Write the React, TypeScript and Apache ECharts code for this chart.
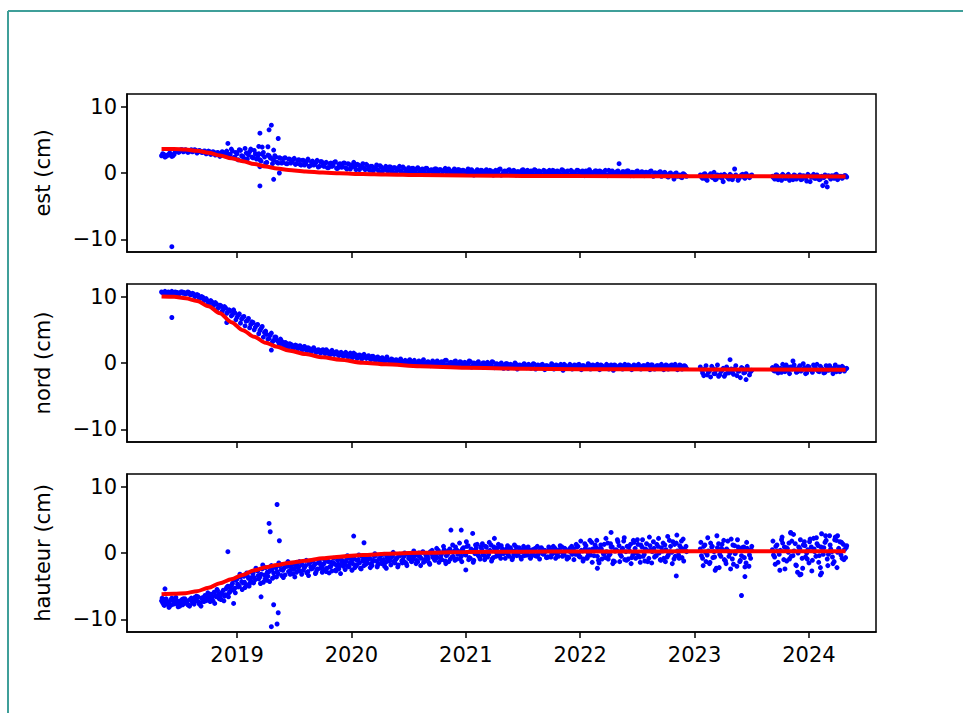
import React, { useEffect, useRef } from "react";
import * as echarts from "echarts";

// ---- sampling (decimal years) ----
const STEP = 0.02;
const segmentStarts = [2018.34, 2023.05, 2023.68];
const yearTicks = [2019, 2020, 2021, 2022, 2023, 2024];
const valueTicks = [-10, 0, 10];
const panelNames = ["est (cm)", "nord (cm)", "hauteur (cm)"];

// ---- est (pass 1, dates from 2018.34) ----
const estSegA = [
  2.6, 2.8, 2.5, 2.7, 2.9, 2.6, 3.2, 3.4, 3.3, 3.5,
  3.3, 3.4, 3.2, 3.5, 3.3, 3.4, 3.2, 3.3, 3.1, 3.3,
  3.0, 3.2, 2.9, 3.1, 2.8, 3.0, 2.7, 3.1, 2.6, 2.9,
  2.8, 3.3, 2.4, 2.9, 3.5, 2.6, 2.2, 3.0, 2.7, 3.6,
  2.3, 2.9, 2.5, 2.0, 2.8, 2.4, 1.6, 2.6, 2.2, 1.9,
  2.4, 1.5, 2.2, 1.6, 2.3, 1.4, 2.1, 1.7, 2.2, 1.4,
  2.0, 1.2, 1.9, 1.4, 2.1, 1.1, 1.8, 1.3, 1.9, 1.0,
  1.7, 1.0, 1.6, 0.8, 1.5, 1.1, 1.7, 0.7, 1.4, 0.9,
  1.5, 0.6, 1.3, 0.9, 1.6, 0.5, 1.2, 0.8, 1.4, 0.5,
  1.1, 0.4, 1.0, 0.6, 1.2, 0.3, 0.9, 0.5, 1.0, 0.3,
  0.9, 0.2, 0.8, 0.4, 1.0, 0.1, 0.7, 0.3, 0.8, 0.2,
  0.7, 0.1, 0.8, 0.2, 0.6, 0.0, 0.7, 0.3, 0.5, 0.0,
  0.6, -0.1, 0.5, 0.2, 0.7, -0.2, 0.4, 0.1, 0.6, -0.1,
  0.5, -0.2, 0.4, 0.0, 0.6, -0.1, 0.3, -0.2, 0.5, 0.1,
  0.4, -0.2, 0.5, 0.0, 0.3, -0.3, 0.4, 0.1, 0.6, -0.2,
  0.3, -0.2, 0.5, 0.0, 0.4, -0.3, 0.2, -0.1, 0.5, 0.0,
  0.4, -0.3, 0.2, 0.5, -0.1, 0.3, -0.3, 0.4, 0.0, 0.2,
  -0.2, 0.4, 0.0, 0.3, -0.3, 0.5, -0.1, 0.2, -0.3, 0.4,
  0.1, -0.3, 0.4, -0.1, 0.3, -0.4, 0.2, 0.5, -0.2, 0.1,
  0.3, -0.3, 0.2, -0.1, 0.4, -0.4, 0.1, 0.3, -0.2, 0.2,
  1.4, -0.3, 0.2, -0.1, 0.3, -0.4, 0.1, -0.2, 0.3, -0.3,
  0.2, -0.4, 0.1, -0.2, 0.3, -0.5, 0.0, -0.3, 0.2, -0.4,
  0.1, -0.5, -0.1, -0.3, -0.9, 0.0, -0.4, -0.6, -0.1, -0.4,
];
const estSegB = [
  -0.3, -0.8, -0.1, -1.1, -0.4, -0.6, 0.1, -0.9, -0.5, -0.3, -1.3, -0.4,
  -0.7, -0.2, -1.0, 0.6, -0.5, -0.8, -0.3, -0.6, -0.1, -0.5, -0.4,
];
const estSegC = [
  -0.5, -0.9, -0.3, -0.7, -1.1, -0.4, -0.8, -0.2, -0.6, -1.0, -0.4, -0.7,
  -0.3, -0.9, -0.5, -1.2, -0.4, -0.6, -0.2, -0.8, -0.5, -0.9, -1.9, -0.3,
  -2.1, -0.6, -0.4, -0.8, -0.2, -0.7, -0.5, -0.6, -0.4,
];
// ---- est (pass 2, dates shifted by 0.01) ----
const estSegA2 = [
  2.9, 2.4, 2.7, 3.0, 2.5, 2.8, 3.4, 3.1, 3.5, 3.2,
  3.5, 3.1, 3.4, 3.2, 3.5, 3.0, 3.4, 3.1, 3.3, 2.9,
  3.3, 2.8, 3.2, 2.7, 3.1, 2.5, 3.2, 2.8, 3.3, 2.6,
  3.6, 2.3, 3.1, 2.0, 3.4, 2.5, 3.7, 2.1, 3.2, 2.4,
  3.4, 2.1, 2.9, 1.8, 3.1, 1.5, 2.7, 2.3, 1.4, 2.6,
  1.6, 2.3, 1.5, 2.2, 1.4, 2.1, 1.5, 2.0, 1.3, 1.9,
  1.3, 1.9, 1.2, 1.8, 1.0, 1.7, 1.2, 1.6, 0.9, 1.7,
  1.1, 1.5, 0.8, 1.4, 1.0, 1.6, 0.7, 1.3, 0.9, 1.5,
  0.8, 1.4, 0.6, 1.2, 0.9, 1.3, 0.5, 1.1, 0.7, 1.3,
  0.6, 1.0, 0.3, 0.8, 0.5, 1.1, 0.2, 0.7, 0.4, 0.9,
  0.3, 0.8, 0.1, 0.6, 0.3, 0.9, 0.0, 0.5, 0.2, 0.7,
  0.2, 0.6, -0.1, 0.5, 0.3, 0.7, 0.0, 0.4, 0.2, 0.6,
  0.1, 0.5, -0.2, 0.4, 0.2, 0.6, -0.1, 0.3, 0.0, 0.5,
  0.1, 0.4, -0.2, 0.3, 0.0, 0.5, -0.3, 0.2, 0.1, 0.4,
  -0.1, 0.3, 0.0, 0.4, -0.2, 0.2, -0.1, 0.5, -0.3, 0.2,
  0.1, 0.4, -0.2, 0.3, 0.0, 0.2, -0.3, 0.4, -0.1, 0.3,
  0.0, 0.3, -0.2, 0.4, -0.1, 0.2, -0.3, 0.3, 0.1, 0.4,
  -0.1, 0.3, 0.0, 0.2, -0.2, 0.4, -0.1, 0.3, -0.3, 0.2,
  0.0, 0.4, -0.2, 0.2, -0.1, 0.3, -0.3, 0.2, 0.0, 0.3,
  -0.2, 0.3, -0.1, 0.2, -0.3, 0.4, 0.0, 0.1, -0.2, 0.3,
  -0.1, 0.2, -0.3, 0.3, -0.2, 0.1, -0.4, 0.2, -0.1, 0.1,
  -0.3, 0.1, -0.2, 0.2, -0.4, 0.0, -0.3, 0.1, -0.5, 0.0,
  -0.2, -0.6, 0.0, -0.4, -0.1, -0.5, -0.3, -0.7, -0.2, -0.5,
];
const estSegB2 = [
  -0.6, -0.2, -0.9, -0.4, -0.1, -0.7, -1.0, -0.3, -0.6, -0.8, -0.2, -0.5,
  -0.9, -0.4, -0.6, -0.3, -1.1, -0.5, -0.2, -0.8, -0.4, -0.7, -0.3,
];
const estSegC2 = [
  -0.7, -0.3, -1.0, -0.5, -0.2, -0.8, -0.4, -1.1, -0.6, -0.3, -0.9, -0.5,
  -1.0, -0.4, -0.7, -0.2, -1.3, -0.6, -0.8, -0.3, -1.0, -0.5, -0.7, -1.4,
  -0.4, -0.9, -0.6, -0.3, -1.0, -0.5, -0.8, -0.4, -0.6,
];
const estOutliers = [
  [2018.43, -11.1], [2018.92, 4.45], [2019.2, 6.0], [2019.28, 6.5], [2019.3, 7.2],
  [2019.36, 5.2], [2019.27, 3.95], [2019.32, 3.45], [2019.2, -1.95], [2019.32, -0.95],
  [2019.37, 0.0], [2019.2, 0.95], [2019.22, 3.9], [2019.19, 4.0],
];

// ---- nord (pass 1) ----
const nordSegA = [
  10.7, 10.5, 10.6, 10.7, 10.5, 10.6, 10.7, 10.6, 10.5, 10.7,
  10.6, 10.5, 10.6, 10.3, 10.4, 10.1, 10.2, 9.8, 9.9, 9.5,
  9.4, 9.1, 9.2, 8.8, 8.9, 8.4, 8.6, 8.1, 8.3, 7.7,
  7.9, 7.3, 7.6, 6.9, 7.4, 6.6, 7.0, 6.3, 6.7, 5.8,
  6.1, 5.4, 5.8, 4.9, 5.5, 4.6, 4.3, 3.7, 4.5, 3.4,
  3.9, 3.2, 3.6, 2.9, 3.1, 2.6, 2.9, 2.7, 2.4, 2.6,
  2.5, 2.2, 2.4, 2.1, 2.3, 1.9, 2.1, 2.0, 1.7, 1.9,
  1.8, 1.6, 2.0, 1.5, 1.7, 1.4, 1.6, 1.3, 1.5, 1.2,
  1.4, 1.1, 1.3, 1.0, 1.5, 1.2, 0.9, 1.1, 0.8, 1.0,
  0.9, 0.7, 1.0, 0.6, 0.8, 0.5, 0.7, 0.4, 0.6, 0.5,
  0.3, 0.5, 0.2, 0.4, 0.1, 0.3, 0.2, 0.0, 0.3, 0.1,
  0.2, -0.1, 0.1, 0.0, 0.2, -0.2, 0.1, 0.0, -0.1, 0.1,
  0.0, -0.2, 0.1, -0.1, 0.4, -0.3, 0.0, -0.1, 0.2, -0.2,
  -0.1, 0.1, -0.3, 0.0, -0.2, 0.2, -0.4, -0.1, 0.0, -0.3,
  -0.2, 0.0, -0.4, -0.1, -0.3, 0.1, -0.5, -0.2, -0.6, -0.3,
  -0.4, -0.1, -0.5, -0.3, -0.7, -0.2, -0.4, -0.6, -0.3, -0.5,
  -0.3, -0.6, -0.4, -0.2, -0.7, -0.5, -0.3, -0.6, -0.4, -0.5,
  -0.6, -0.3, -0.5, -0.8, -0.4, -0.6, -0.2, -0.5, -0.7, -0.4,
  -0.5, -0.7, -0.3, -0.6, -0.4, -0.8, -0.5, -0.3, -0.6, -0.4,
  -0.7, -0.5, -0.3, -0.6, -0.8, -0.4, -0.6, -0.5, -0.3, -0.7,
  -0.5, -0.8, -0.4, -0.6, -0.3, -0.7, -0.5, -0.6, -0.4, -0.8,
  -0.6, -0.4, -0.7, -0.5, -0.3, -0.6, -0.8, -0.4, -0.6, -0.5,
  -0.7, -0.4, -0.6, -0.3, -0.5, -0.8, -0.6, -0.4, -0.7, -0.5,
];
const nordSegB = [
  -0.6, -1.5, -0.9, -1.8, -1.2, -0.5, -1.6, -1.0, -2.0, -1.3, -0.8, -1.7,
  -1.1, 0.5, -1.4, -0.9, -1.9, -1.2, -0.7, -1.5, -2.5, -1.0, -1.3,
];
const nordSegC = [
  -0.7, -1.2, -0.5, -1.0, -1.4, -0.8, -0.3, -1.1, -0.6, 0.3, -0.9, -1.3,
  -0.4, -1.0, -0.7, -1.5, -0.6, -1.1, -0.3, -0.9, -1.2, -0.5, -1.0, -1.4,
  -0.7, -0.4, -1.1, -0.8, -1.3, -0.6, -1.0, -0.7, -0.9,
];
// ---- nord (pass 2, shifted by 0.01) ----
const nordSegA2 = [
  10.6, 10.8, 10.5, 10.6, 10.8, 10.5, 10.6, 10.4, 10.7, 10.5,
  10.4, 10.7, 10.3, 10.5, 10.0, 10.3, 9.7, 10.0, 9.4, 9.7,
  9.0, 9.4, 8.6, 9.1, 8.2, 8.7, 7.8, 8.5, 7.5, 8.0,
  7.1, 7.8, 6.5, 7.2, 6.0, 6.9, 5.6, 6.4, 5.3, 6.2,
  5.0, 5.7, 4.4, 5.2, 3.9, 4.8, 3.6, 4.2, 3.2, 3.9,
  3.4, 2.8, 3.3, 2.5, 3.0, 2.3, 2.8, 2.2, 2.7, 2.1,
  2.6, 2.0, 2.5, 1.8, 2.2, 1.7, 2.3, 1.6, 2.0, 1.5,
  2.0, 1.4, 1.8, 1.2, 1.9, 1.3, 1.7, 1.1, 1.6, 1.0,
  1.6, 0.9, 1.5, 0.8, 1.3, 0.7, 1.2, 0.6, 1.3, 0.7,
  1.1, 0.5, 1.0, 0.4, 0.9, 0.3, 0.8, 0.2, 0.9, 0.3,
  0.6, 0.0, 0.5, -0.1, 0.6, 0.0, 0.4, -0.2, 0.5, 0.0,
  0.4, -0.3, 0.3, -0.2, 0.5, -0.3, 0.2, -0.4, 0.3, -0.2,
  0.3, -0.4, 0.2, -0.3, 0.4, -0.5, 0.1, -0.3, 0.3, -0.4,
  0.2, -0.5, 0.1, -0.4, 0.3, -0.6, 0.0, -0.3, 0.2, -0.5,
  0.0, -0.6, 0.1, -0.5, 0.2, -0.7, -0.1, -0.4, 0.0, -0.8,
  -0.1, -0.8, -0.2, -0.6, 0.0, -0.9, -0.3, -0.5, -0.1, -0.7,
  -0.2, -0.8, -0.1, -0.9, -0.3, -0.7, -0.2, -1.0, -0.4, -0.8,
  -0.1, -0.9, -0.3, -0.7, -0.2, -1.1, -0.4, -0.8, -0.2, -0.9,
  -0.3, -0.8, -0.2, -1.0, -0.4, -0.7, -0.1, -0.9, -0.3, -0.8,
  -0.2, -1.0, -0.4, -0.8, -0.2, -0.9, -0.3, -1.1, -0.4, -0.7,
  -0.3, -0.9, -0.2, -0.8, -0.4, -1.0, -0.3, -0.8, -0.2, -0.9,
  -0.4, -0.8, -0.2, -1.0, -0.3, -0.9, -0.4, -0.7, -0.2, -1.0,
  -0.3, -0.9, -0.4, -0.8, -0.2, -1.0, -0.3, -0.9, -0.4, -0.8,
];
const nordSegB2 = [
  -1.0, -1.9, -0.4, -1.4, -2.1, -0.8, -1.6, -0.3, -1.8, -1.1, -2.0, -0.6,
  -1.5, -0.9, -1.7, -0.4, -1.2, -2.2, -0.8, -1.4, -0.5, -1.8, -1.1,
];
const nordSegC2 = [
  -1.1, -0.4, -1.5, -0.8, -0.2, -1.3, -0.6, -1.6, -0.9, -0.3, -1.4, -0.7,
  -1.2, -0.1, -1.6, -0.5, -1.0, -1.4, -0.6, -0.2, -1.3, -0.8, -1.5, -0.4,
  -1.1, -0.7, -1.6, -0.3, -1.0, -1.3, -0.5, -1.2, -0.8,
];
const nordOutliers = [
  [2018.43, 6.85], [2019.3, 1.95], [2018.91, 6.1], [2018.97, 8.0],
];

// ---- hauteur (pass 1) ----
const hautSegA = [
  -7.2, -7.8, -6.9, -7.5, -7.9, -7.1, -7.6, -7.3, -8.0, -7.0,
  -7.6, -7.2, -7.9, -6.8, -7.4, -7.0, -6.6, -7.5, -6.9, -6.4,
  -7.1, -6.5, -6.8, -5.9, -6.6, -6.2, -7.0, -5.6, -6.3, -5.0,
  -5.8, -4.6, -5.3, -3.9, -5.0, -4.3, -3.5, -4.8, -3.8, -4.2,
  -3.1, -4.0, -2.7, -3.6, -2.4, -3.3, -4.1, -2.8, -1.9, -3.0,
  -2.2, -3.1, -1.8, -2.6, -3.3, -2.0, -2.7, -1.6, -2.4, -2.9,
  -2.1, -1.5, -2.6, -1.9, -2.8, -1.4, -2.3, -1.7, -2.5, -1.2,
  -2.2, -1.6, -2.8, -1.3, -2.0, -1.5, -2.6, -1.1, -1.9, -1.4,
  -1.7, -0.9, -2.1, -1.3, -0.6, -1.8, -1.0, -2.3, -1.2, -0.7,
  -1.5, -0.8, -1.9, -0.5, -1.2, -1.6, -0.3, -1.0, -1.4, -0.6,
  -1.1, -0.4, -1.5, -0.7, -0.2, -1.2, -0.5, -1.6, -0.8, -0.3,
  -0.9, -0.2, -1.3, -0.6, 0.1, -1.0, -0.4, -1.5, -0.1, -0.7,
  -0.3, 0.4, -0.8, 0.1, -1.2, -0.2, 0.6, -0.6, 0.3, -0.9,
  0.2, -0.5, 0.8, -0.3, 1.1, -0.8, 0.4, -0.1, 1.3, -0.6,
  0.5, -0.4, 0.9, -0.2, 1.2, -0.7, 0.3, 0.8, -0.3, 0.6,
  0.1, 0.7, -0.5, 0.4, -0.2, 0.9, 0.0, -0.6, 0.5, 0.2,
  -0.3, 0.4, -0.1, 0.6, -0.5, 0.2, 0.8, -0.2, 0.3, -0.6,
  0.5, -0.1, 0.7, -0.4, 0.2, 0.9, -0.3, 0.4, -0.7, 0.1,
  0.6, -0.2, 1.0, -0.6, 0.3, 1.4, -0.8, 0.5, 1.6, -0.4,
  0.8, -1.1, 1.2, 0.1, -0.7, 1.5, -0.2, 0.9, -1.3, 0.4,
  1.1, -0.5, 1.8, 0.2, -0.9, 1.3, -0.3, 0.7, 2.0, -0.6,
  0.9, -0.2, 1.4, -0.8, 0.5, 1.7, -0.4, 1.0, -1.0, 0.3,
  1.2, -0.6, 1.9, 0.1, -0.9, 1.5, -0.3, 0.8, 2.1, 0.4,
];
const hautSegB = [
  0.6, -0.8, 1.2, -0.3, -1.6, 0.9, 0.2, -2.3, 1.4, -0.5, 0.4, -1.2,
  1.8, 0.0, -0.9, 1.1, -2.0, 0.5, -0.4, 0.9, -1.5, 0.3, -0.8,
];
const hautSegC = [
  0.5, -0.6, 1.2, -0.2, 2.0, -1.0, 0.8, 0.1, 3.0, -0.4, 1.4, -2.9,
  0.6, -0.8, 1.7, 0.0, -1.5, 0.9, 2.2, -0.5, 1.1, -2.2, 0.4, 1.6,
  -0.9, 2.6, 0.2, -1.3, 1.9, 0.7, -0.3, 1.3, -0.7,
];
// ---- hauteur (pass 2, shifted by 0.01) ----
const hautSegA2 = [
  -7.5, -7.0, -7.7, -7.3, -6.8, -7.6, -7.1, -7.9, -7.4, -6.9,
  -7.3, -7.8, -7.0, -7.5, -6.7, -7.2, -7.7, -6.8, -7.3, -6.6,
  -6.9, -6.2, -7.2, -6.4, -5.7, -6.7, -5.9, -6.5, -5.2, -6.0,
  -4.9, -5.6, -4.1, -5.1, -3.6, -4.5, -5.2, -3.4, -4.6, -2.9,
  -3.7, -2.6, -3.9, -3.2, -4.4, -2.2, -3.5, -2.6, -3.8, -2.1,
  -2.8, -1.9, -3.4, -2.3, -1.7, -2.8, -2.1, -3.1, -1.9, -2.2,
  -2.7, -1.8, -2.2, -3.0, -1.6, -2.4, -2.0, -2.9, -1.5, -2.3,
  -1.8, -2.5, -1.2, -2.1, -2.7, -1.6, -1.9, -2.4, -1.0, -2.0,
  -1.3, -2.0, -0.8, -1.6, -2.2, -1.1, -1.5, -0.5, -1.9, -1.2,
  -0.9, -1.7, -1.1, -0.4, -1.8, -0.9, -1.3, -2.0, -0.7, -1.2,
  -0.6, -1.3, -0.9, -1.8, -0.3, -1.0, -1.4, -0.2, -0.9, -1.2,
  -0.5, -1.1, 0.0, -0.8, -1.4, -0.3, -0.9, 0.2, -0.6, -1.1,
  -0.7, 0.0, -1.0, 0.5, -0.4, -1.3, 0.2, -0.5, 0.9, -0.2,
  -0.9, 0.6, -0.2, 1.0, -0.7, 0.3, -1.1, 0.7, -0.4, 0.9,
  -0.2, 1.0, -0.6, 0.4, -0.9, 0.7, 0.1, -0.4, 1.1, -0.1,
  0.5, -0.3, 0.8, -0.7, 0.3, -0.1, 0.6, 0.2, -0.4, 0.7,
  0.3, -0.5, 0.1, 0.7, -0.3, 0.5, -0.1, 0.4, -0.6, 0.6,
  -0.2, 0.6, 0.0, -0.5, 0.8, -0.1, 0.3, -0.6, 0.7, -0.2,
  0.2, 0.9, -0.5, 0.4, -0.9, 1.1, 0.0, -0.3, 0.6, 1.2,
  -0.5, 0.6, -0.9, 1.3, 0.2, -0.4, 0.9, -1.2, 0.5, 1.7,
  -0.2, 0.7, -1.0, 1.0, 0.3, -0.7, 1.6, 0.0, -0.4, 1.2,
  -0.5, 0.6, -1.3, 1.1, 0.2, -0.6, 1.3, 0.0, 0.8, -0.8,
  0.5, -0.3, 1.0, 1.7, -0.5, 0.3, 1.1, -0.7, 0.6, 0.2,
];
const hautSegB2 = [
  -0.4, 1.0, -1.3, 0.3, 1.5, -0.7, -2.6, 0.8, -0.2, 1.3, -1.0, 0.6,
  -0.5, 2.1, -1.7, 0.2, 0.9, -1.1, 0.4, -2.1, 0.7, -0.3, 1.0,
];
const hautSegC2 = [
  -0.3, 1.0, -1.4, 0.4, 1.5, -2.4, 0.7, -0.9, 1.8, 0.3, -1.9, 0.9,
  -3.2, 1.2, -0.6, 0.5, 2.1, -1.1, 0.2, 1.4, -0.4, -3.0, 0.8, 1.9,
  -0.2, 0.6, -1.6, 2.4, 0.1, 1.7, -0.8, 0.5, 1.1,
];
// ---- hauteur (pass 3, shifted by 0.005) ----
const hautSegA3 = [
  -6.8, -7.9, -7.4, -8.2, -7.0, -7.7, -6.7, -8.1, -7.2, -7.8,
  -6.9, -7.6, -8.0, -7.1, -7.7, -6.5, -7.4, -8.0, -6.7, -7.2,
  -6.0, -7.3, -6.6, -7.6, -5.5, -6.9, -6.1, -7.2, -5.4, -6.6,
  -5.4, -4.0, -6.0, -4.7, -3.2, -5.5, -4.4, -3.0, -5.0, -3.7,
  -4.5, -2.3, -3.4, -4.6, -1.8, -3.9, -2.9, -4.3, -2.5, -3.6,
  -3.6, -1.5, -2.5, -3.7, -2.0, -1.3, -3.2, -2.4, -3.6, -1.6,
  -1.3, -3.2, -2.0, -1.1, -3.4, -2.1, -1.2, -3.1, -2.4, -1.6,
  -2.9, -1.0, -2.3, -3.0, -1.4, -0.8, -2.7, -1.7, -3.1, -1.2,
  -2.5, -0.4, -1.5, -2.6, -0.9, -1.9, -0.3, -2.4, -1.0, -1.7,
  -0.4, -2.2, -1.3, -0.1, -2.1, -0.8, -1.6, -0.2, -2.3, -1.0,
  -1.8, 0.1, -1.0, -2.1, -0.4, -1.5, 0.0, -1.9, -0.6, -1.3,
  0.3, -1.6, -0.4, -1.9, 0.2, -1.2, -0.5, -1.7, 0.4, -0.9,
  0.7, -1.4, -0.3, 1.0, -1.6, 0.3, -0.9, 1.2, -1.1, 0.4,
  1.5, -1.3, 0.1, 1.7, -1.0, 0.6, -1.4, 1.2, 0.0, -0.9,
  1.4, -1.0, 0.2, 1.6, -1.2, 0.9, -0.5, 1.3, -0.8, 0.4,
  -0.8, 1.1, 0.3, -1.0, 1.2, -0.4, 0.8, -0.9, 1.0, -0.3,
  0.9, -0.8, 0.5, -0.4, 1.0, -0.9, 0.6, 0.0, -0.7, 0.9,
  -0.6, 1.0, -0.8, 0.4, 1.1, -0.5, 0.7, -0.9, 0.3, 1.0,
  -1.0, 1.3, -0.1, 1.8, -1.2, 0.7, -0.5, 1.9, -1.4, 0.5,
  1.9, -1.5, 0.6, -0.2, 2.2, -0.9, 1.4, -1.6, 0.3, 2.0,
  -1.3, 0.5, 2.3, -1.1, 0.9, -1.6, 1.9, -0.8, 1.3, -1.4,
  2.0, -1.2, 0.4, 2.4, -1.5, 0.7, -0.4, 2.2, -1.1, 1.5,
  -1.3, 2.5, 0.2, -1.6, 1.3, 2.7, -0.8, 1.8, -1.2, 1.0,
];
const hautSegB3 = [
  1.6, -1.9, 0.1, 2.3, -1.4, 1.0, -0.6, 2.6, -2.2, 0.7, 1.9, -1.6,
  0.3, -2.4, 1.2, -0.1, 2.0, -1.3, 0.8, -0.7, 1.6, -2.0, 0.5,
];
const hautSegC3 = [
  1.8, -1.7, 0.3, -2.6, 2.4, 0.9, -1.2, 1.5, -0.5, 2.8, -1.8, 0.0,
  2.0, -2.3, 1.1, -0.9, 1.7, -2.7, 0.6, 2.3, -1.4, 0.9, -0.2, 2.6,
  -1.9, 1.2, -0.6, 2.0, -2.2, 0.4, 1.6, -1.0, 0.8,
];
const hautOutliers = [
  [2018.37, -5.4], [2018.92, 0.2], [2019.28, 4.45], [2019.29, 3.2], [2019.35, 7.3],
  [2019.37, 1.85], [2019.32, -7.8], [2019.36, -9.0], [2019.3, -11.1], [2019.35, -10.7],
  [2019.21, -6.6], [2018.97, -7.6], [2020.02, 2.55], [2020.11, 1.55], [2020.87, 3.45],
  [2020.96, 3.45], [2021.06, 2.95], [2021.0, -2.55], [2021.25, 2.2], [2022.84, -3.45],
  [2023.41, -6.4], [2023.44, -3.55], [2022.15, -2.3], [2022.27, 3.1], [2023.84, 3.1],
  [2023.92, -3.3], [2024.1, -3.3], [2024.11, 2.9], [2024.25, 2.6],
];

// ---- fitted curves ----
const fitYears = [
  2018.34, 2018.45, 2018.55, 2018.65, 2018.75, 2018.85, 2018.95, 2019.05, 2019.15, 2019.25,
  2019.35, 2019.45, 2019.6, 2019.75, 2019.9, 2020.1, 2020.3, 2020.6, 2021.0, 2021.5,
  2022.0, 2023.0, 2024.32,
];
const estFit = [
  3.6, 3.6, 3.53, 3.35, 3.05, 2.65, 2.22, 1.78, 1.35, 0.98,
  0.68, 0.45, 0.22, 0.06, -0.05, -0.15, -0.23, -0.32, -0.39, -0.44,
  -0.47, -0.5, -0.52,
];
const nordFit = [
  10.0, 9.97, 9.75, 9.35, 8.55, 7.5, 6.15, 4.95, 3.95, 3.05,
  2.45, 1.9, 1.35, 0.85, 0.5, 0.05, -0.2, -0.48, -0.72, -0.86,
  -0.93, -0.97, -1.0,
];
const hautFit = [
  -6.2, -6.15, -6.05, -5.75, -5.25, -4.55, -3.95, -3.3, -2.6, -2.15,
  -1.8, -1.5, -1.15, -0.8, -0.55, -0.3, -0.12, 0.03, 0.15, 0.2,
  0.22, 0.25, 0.25,
];

const toPoints = (segs: number[][], offset: number) =>
  segs.flatMap((vals, s) =>
    vals.map((v, i) => [+(segmentStarts[s] + offset + i * STEP).toFixed(3), v])
  );

const panels = [
  {
    name: panelNames[0],
    points: [
      ...toPoints([estSegA, estSegB, estSegC], 0),
      ...toPoints([estSegA2, estSegB2, estSegC2], 0.01),
      ...estOutliers,
    ],
    fit: estFit,
  },
  {
    name: panelNames[1],
    points: [
      ...toPoints([nordSegA, nordSegB, nordSegC], 0),
      ...toPoints([nordSegA2, nordSegB2, nordSegC2], 0.01),
      ...nordOutliers,
    ],
    fit: nordFit,
  },
  {
    name: panelNames[2],
    points: [
      ...toPoints([hautSegA, hautSegB, hautSegC], 0),
      ...toPoints([hautSegA2, hautSegB2, hautSegC2], 0.01),
      ...toPoints([hautSegA3, hautSegB3, hautSegC3], 0.005),
      ...hautOutliers,
    ],
    fit: hautFit,
  },
];

const FONT = "DejaVu Sans";
const fmtNum = (v: number) => (v < 0 ? "\u2212" + Math.abs(v) : String(v));

export default function App() {
  const ref = useRef<HTMLDivElement>(null);

  useEffect(() => {
    if (!ref.current) return;
    const chart = echarts.init(ref.current, undefined, { renderer: "svg" });
    const tops = [94, 284, 474];
    const grids = tops.map((t) => ({
      left: 127,
      top: t,
      width: 749,
      height: 158,
      show: true,
      borderColor: "#000",
      borderWidth: 1.5,
      backgroundColor: "transparent",
    }));
    const xAxes = tops.map((_, i) => ({
      type: "value",
      gridIndex: i,
      min: 2018.038,
      max: 2024.586,
      axisLine: { show: true, onZero: false, lineStyle: { color: "#000", width: 1.5 } },
      axisTick: {
        show: true,
        length: 6,
        customValues: yearTicks,
        lineStyle: { color: "#000", width: 1.5 },
      },
      axisLabel: {
        show: i === 2,
        customValues: yearTicks,
        formatter: (v: number) => String(v),
        fontFamily: FONT,
        fontSize: 21,
        color: "#000",
        margin: 12,
      },
      splitLine: { show: false },
    }));
    const yAxes = tops.map((_, i) => ({
      type: "value",
      gridIndex: i,
      min: -11.9,
      max: 11.9,
      name: panels[i].name,
      nameLocation: "middle",
      nameGap: 74,
      nameTextStyle: { fontFamily: FONT, fontSize: 21, color: "#000" },
      axisLine: { show: true, onZero: false, lineStyle: { color: "#000", width: 1.5 } },
      axisTick: {
        show: true,
        length: 6,
        customValues: valueTicks,
        lineStyle: { color: "#000", width: 1.5 },
      },
      axisLabel: {
        show: true,
        customValues: valueTicks,
        formatter: (v: number) => fmtNum(v),
        fontFamily: FONT,
        fontSize: 21,
        color: "#000",
        margin: 10,
      },
      splitLine: { show: false },
    }));
    const series: any[] = [];
    panels.forEach((p, i) => {
      series.push({
        type: "scatter",
        xAxisIndex: i,
        yAxisIndex: i,
        data: p.points,
        symbolSize: 5,
        itemStyle: { color: "#0000ff", opacity: 1 },
        z: 2,
      });
      series.push({
        type: "line",
        xAxisIndex: i,
        yAxisIndex: i,
        data: fitYears.map((y, k) => [y, p.fit[k]]),
        smooth: 0.3,
        smoothMonotone: "x",
        showSymbol: false,
        symbol: "none",
        lineStyle: { color: "#ff0000", width: 4 },
        z: 3,
      });
    });
    chart.setOption({
      animation: false,
      backgroundColor: "#fff",
      textStyle: { fontFamily: FONT },
      grid: grids,
      xAxis: xAxes,
      yAxis: yAxes,
      series,
      graphic: [
        {
          type: "line",
          shape: { x1: 8, y1: 11, x2: 963, y2: 11 },
          style: { stroke: "#3f9f99", lineWidth: 2 },
        },
        {
          type: "line",
          shape: { x1: 8, y1: 11, x2: 8, y2: 713 },
          style: { stroke: "#3f9f99", lineWidth: 2 },
        },
      ],
    });
    return () => chart.dispose();
  }, []);

  return (
    <div style={{ position: "fixed", left: 0, top: 0, width: 963, height: 713, background: "#fff" }}>
      <div ref={ref} style={{ width: 963, height: 713 }} />
    </div>
  );
}
